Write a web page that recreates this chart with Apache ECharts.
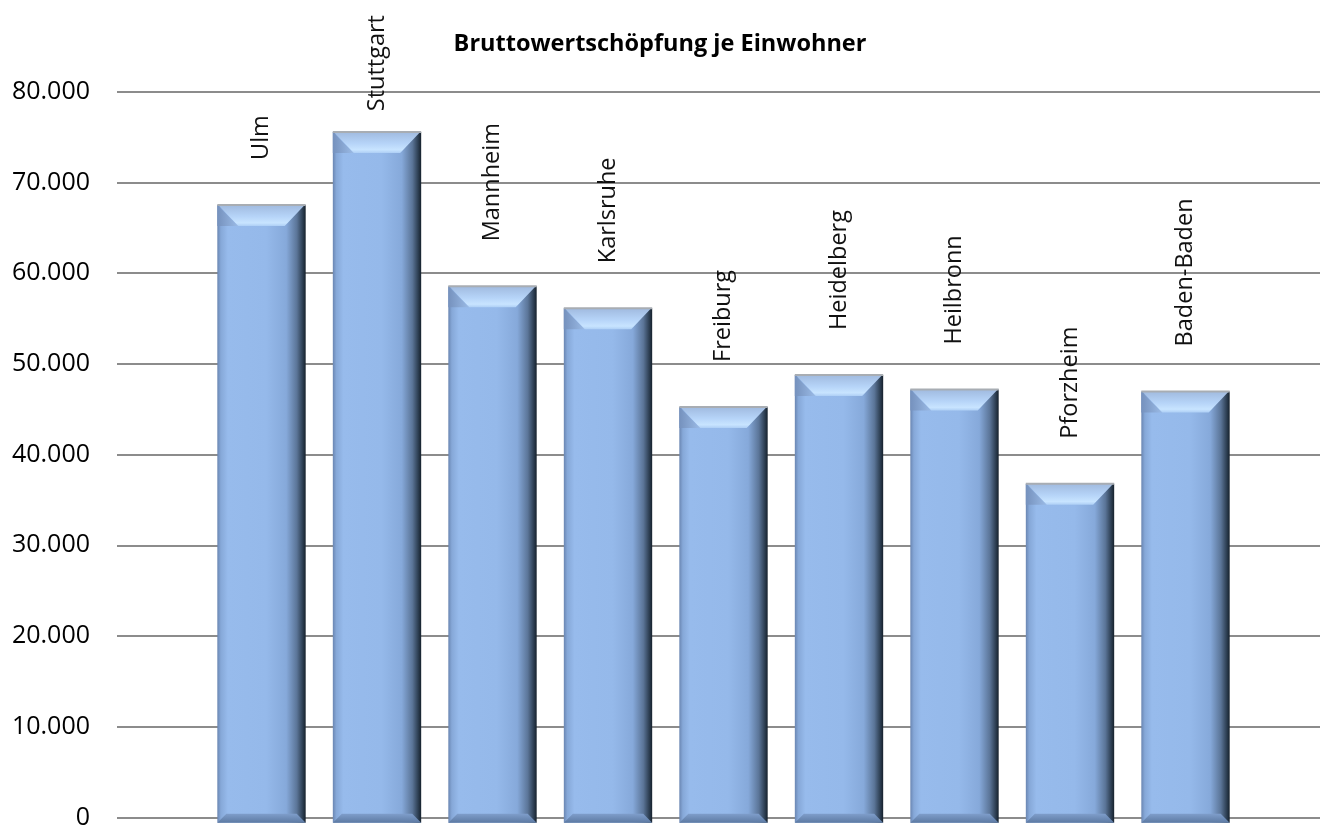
<!DOCTYPE html>
<html>
<head>
<meta charset="utf-8">
<script src="https://cdn.jsdelivr.net/npm/echarts@6/dist/echarts.min.js"></script>
<style>
html,body{margin:0;padding:0;background:#fff;}
#chart{width:1320px;height:830px;}
</style>
</head>
<body>
<div id="chart"></div>
<script>
const titleText = 'Bruttowertschöpfung je Einwohner';
const categories = ['Ulm','Stuttgart','Mannheim','Karlsruhe','Freiburg','Heidelberg','Heilbronn','Pforzheim','Baden-Baden'];
const values = [67600, 75600, 58700, 56300, 45500, 49000, 47400, 37100, 47200];
const yTicks = { min: 0, max: 80000, interval: 10000 };

function fmt(v){
  if (v === 0) return '0';
  const s = String(Math.round(v));
  return s.replace(/\B(?=(\d{3})+(?!\d))/g, '.');
}

const FONT = "'Open Sans', 'Noto Sans', sans-serif";
const LABEL_FONT_SIZE = 23.5;
const LABEL_GAP = 45;
const LABEL_MIN_TOP = 15;
const BAR_RATIO = 0.765;

const chart = echarts.init(document.getElementById('chart'), null, {renderer:'canvas'});

const bodyGradient = new echarts.graphic.LinearGradient(0,0,1,0,[
  {offset:0, color:'#6a86b2'},
  {offset:0.04, color:'#86a8d8'},
  {offset:0.12, color:'#97bbec'},
  {offset:0.55, color:'#95b9ea'},
  {offset:0.78, color:'#86a9da'},
  {offset:0.9, color:'#5b7598'},
  {offset:0.97, color:'#2a3b4e'},
  {offset:1, color:'#16212c'}
]);

function bevelItem(params, api){
  const idx = api.value(0), v = api.value(1);
  const top = api.coord([idx, v]);
  const base = api.coord([idx, 0]);
  const bw = api.size([1,0])[0]*BAR_RATIO;
  const l = top[0]-bw/2, r = top[0]+bw/2, t = top[1], B = base[1];
  const b = 21, b2 = 9;
  return {type:'group', children:[
    {type:'polygon', shape:{points:[[l,t],[l+b,t+b],[l,t+b]]},
     style:{fill:new echarts.graphic.LinearGradient(0,0,1,0,[
       {offset:0,color:'#7591bd'},{offset:1,color:'#9bbbe6'}])}},
    {type:'polygon', shape:{points:[[l+1,t],[r-1,t],[r-b,t+b],[l+b,t+b]]},
     style:{fill:new echarts.graphic.LinearGradient(0,0,0,1,[
       {offset:0,color:'#a0badf'},{offset:0.55,color:'#b6d4f8'},{offset:0.85,color:'#c8e4ff'},{offset:1,color:'#aecff5'}])}},
    {type:'line', shape:{x1:l,y1:t,x2:r,y2:t}, style:{stroke:'#a8adb3', lineWidth:2}},
    {type:'polygon', shape:{points:[[l,B],[r,B],[r-b2,B-b2],[l+b2,B-b2]]},
     style:{fill:new echarts.graphic.LinearGradient(0,0,0,1,[
       {offset:0,color:'#7f9ecb'},{offset:1,color:'#5d7aa3'}])}}
  ]};
}

const labelBase = {
  show:true, formatter:p=>categories[p.dataIndex],
  position:'top', distance:LABEL_GAP, rotate:90, align:'left', verticalAlign:'middle',
  fontFamily:FONT, fontSize:LABEL_FONT_SIZE, color:'#111'
};

const option = {
  animation:false,
  backgroundColor:'#ffffff',
  title:{
    text:titleText, left:'center', top:27,
    textStyle:{fontFamily:FONT, fontSize:23.5, fontWeight:'bold', color:'#000'}
  },
  grid:[
    {left:117, right:0, top:91.7, bottom:7.3},
    {left:203.75, right:76.75, top:91.7, bottom:7.3}
  ],
  xAxis:[
    {type:'value', gridIndex:0, show:false, min:0, max:1},
    {type:'category', gridIndex:1, data:categories, show:false, boundaryGap:true}
  ],
  yAxis:[
    {type:'value', gridIndex:0, min:yTicks.min, max:yTicks.max, interval:yTicks.interval,
     axisLine:{show:false}, axisTick:{show:false},
     axisLabel:{formatter:fmt, fontFamily:FONT, fontSize:25, color:'#000', margin:27},
     splitLine:{lineStyle:{color:'#8c8c8c', width:2}}},
    {type:'value', gridIndex:1, min:yTicks.min, max:yTicks.max, interval:yTicks.interval, show:false, splitLine:{show:false}}
  ],
  series:[
    {
      type:'bar', xAxisIndex:1, yAxisIndex:1, z:2,
      data:values, barWidth:(BAR_RATIO*100)+'%',
      itemStyle:{color:bodyGradient},
      label:labelBase
    },
    {
      type:'custom', xAxisIndex:1, yAxisIndex:1, z:5,
      coordinateSystem:'cartesian2d',
      encode:{x:0, y:1},
      data:values.map((v,i)=>[i,v]),
      silent:true, clip:false,
      renderItem:bevelItem
    }
  ]
};
chart.setOption(option);

// keep labels inside the chart: shorten the gap where a label would run off the top edge
const ctx = document.createElement('canvas').getContext('2d');
ctx.font = LABEL_FONT_SIZE + 'px ' + FONT;
const barData = values.map((v,i)=>{
  const topPx = chart.convertToPixel({yAxisIndex:1}, v);
  const w = ctx.measureText(categories[i]).width;
  const gap = Math.min(LABEL_GAP, topPx - LABEL_MIN_TOP - w);
  return gap < LABEL_GAP ? {value:v, label:{distance:gap}} : v;
});
chart.setOption({series:[{data:barData}]});
</script>
</body>
</html>
